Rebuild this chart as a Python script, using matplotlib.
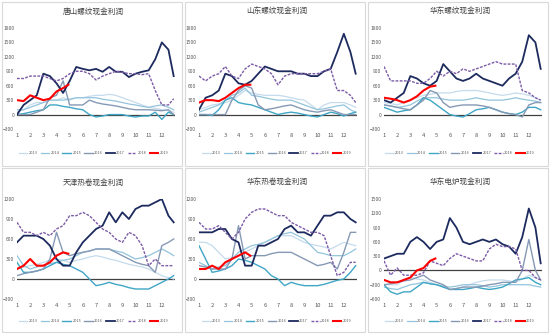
import numpy as np
import matplotlib.pyplot as plt
from matplotlib.patches import Rectangle

plt.rcParams['font.family'] = ['Noto Sans CJK SC', 'DejaVu Sans']

years = ['2013', '2014', '2015', '2016', '2017', '2018', '2019']
colors = ['#c5dbec', '#93c4dc', '#3fa6c5', '#8699b4', '#1c2a5e', '#7b5aa6', '#ff0000']
widths = [0.9, 0.9, 1.0, 1.0, 1.3, 1.0, 1.5]
styles = ['-', '-', '-', '-', '-', (0, (2, 1)), '-']

# half-month sample positions (month number on x axis)
months = [1, 1.5, 2, 2.5, 3, 3.5, 4, 4.5, 5, 5.5, 6, 6.5, 7, 7.5, 8, 8.5, 9, 9.5,
          10, 10.5, 11, 11.5, 12, 12.5, 12.9]
months_2019 = [1, 1.5, 2, 2.5, 3, 3.5, 4, 4.5, 4.9]

titles = ['唐山螺纹现金利润', '山东螺纹现金利润', '华东螺纹现金利润',
          '天津热卷现金利润', '华东热卷现金利润', '华东电炉现金利润']

# 唐山螺纹
ts_2013 = [50, 100, 200, 250, 250, 300, 300, 350, 300, 350, 350, 380, 400, 400, 420, 400, 350, 300, 250, 200, 150, 130, 100, 80, 50]
ts_2014 = [100, 100, 150, 200, 250, 300, 300, 300, 320, 350, 350, 350, 350, 320, 300, 280, 250, 220, 200, 170, 150, 180, 200, 150, 100]
ts_2015 = [0, 20, 50, 80, 100, 200, 200, 170, 150, 120, 100, 0, -50, -30, 0, 0, 0, -30, -50, -30, -30, 50, -100, 50, 0]
ts_2016 = [0, 0, 0, 50, 100, 350, 400, 700, 200, 200, 200, 300, 250, 220, 200, 180, 150, 120, 100, 100, 100, 90, 80, 100, 0]
ts_2017 = [0, 200, 300, 400, 850, 800, 650, 450, 700, 990, 950, 920, 950, 890, 990, 890, 890, 780, 850, 890, 920, 1150, 1500, 1350, 800]
ts_2018 = [750, 750, 800, 800, 800, 750, 700, 750, 850, 900, 900, 850, 720, 800, 850, 900, 880, 850, 850, 830, 850, 500, 200, 200, 330]
ts_2019 = [300, 280, 400, 350, 300, 330, 480, 550, 620]

# 山东螺纹
sd_2013 = [100, 150, 200, 220, 250, 300, 400, 500, 450, 420, 400, 400, 400, 380, 350, 320, 300, 200, 100, 200, 250, 250, 250, 200, 150]
sd_2014 = [50, 100, 150, 200, 300, 400, 450, 550, 400, 380, 350, 320, 300, 300, 300, 250, 200, 150, 100, 120, 150, 180, 200, 100, 50]
sd_2015 = [0, 0, -20, 100, 300, 350, 250, 220, 200, 150, 100, 50, 0, 30, 50, 30, 0, -30, -50, 0, 50, 20, -30, 20, 50]
sd_2016 = [0, 0, 0, 0, 0, 300, 500, 600, 550, 200, 100, 120, 150, 180, 200, 150, 100, 70, 50, 80, 100, 50, 0, 0, 0]
sd_2017 = [100, 350, 400, 500, 850, 800, 650, 620, 700, 850, 1000, 950, 900, 900, 900, 850, 850, 800, 800, 900, 950, 1300, 1680, 1300, 850]
sd_2018 = [800, 700, 800, 850, 1000, 800, 750, 950, 1050, 1000, 950, 850, 620, 800, 850, 850, 850, 850, 850, 900, 950, 500, 500, 400, 250]
sd_2019 = [250, 300, 300, 280, 350, 450, 550, 620, 620]

# 华东螺纹
hl_2013 = [250, 230, 200, 250, 300, 350, 400, 420, 450, 450, 450, 480, 500, 500, 500, 480, 450, 420, 400, 420, 450, 430, 400, 350, 300]
hl_2014 = [200, 180, 150, 170, 200, 280, 350, 350, 350, 320, 300, 300, 300, 320, 350, 320, 300, 300, 300, 320, 350, 320, 300, 280, 250]
hl_2015 = [150, 100, 50, 80, 100, 200, 350, 300, 200, 100, 0, -30, -50, 20, 100, 120, 150, 100, 50, 20, 0, 50, 150, 150, 100]
hl_2016 = [200, 180, 150, 120, 100, 200, 300, 500, 450, 250, 150, 180, 200, 200, 200, 180, 150, 100, 50, 20, 0, -50, 200, 250, 250]
hl_2017 = [300, 250, 350, 450, 800, 750, 650, 600, 700, 1050, 900, 750, 700, 750, 850, 750, 700, 650, 600, 750, 850, 1100, 1650, 1500, 950]
hl_2018 = [1000, 700, 700, 700, 700, 650, 650, 750, 900, 800, 900, 850, 950, 900, 950, 1000, 1050, 1100, 1050, 1050, 1050, 500, 450, 350, 300]
hl_2019 = [350, 330, 300, 250, 300, 380, 500, 580, 600]

# 天津热卷
tj_2013 = [150, 180, 200, 220, 250, 280, 300, 280, 250, 280, 300, 330, 350, 330, 300, 280, 250, 220, 200, 180, 150, 100, 50, 20, 0]
tj_2014 = [350, 200, 150, 180, 200, 230, 250, 280, 300, 350, 400, 420, 450, 450, 450, 420, 400, 350, 300, 320, 350, 400, 450, 400, 350]
tj_2015 = [250, 100, 100, 120, 150, 200, 250, 220, 200, 150, 100, 0, -100, -80, -50, -80, -100, -130, -150, -150, -150, -100, -50, 0, 50]
tj_2016 = [50, 80, 100, 120, 150, 300, 700, 400, 350, 380, 400, 420, 450, 450, 450, 400, 350, 300, 250, 220, 200, 100, 500, 550, 600]
tj_2017 = [550, 650, 650, 650, 600, 500, 300, 200, 200, 400, 550, 650, 750, 800, 1000, 850, 1000, 900, 1050, 1100, 1100, 1150, 1200, 950, 850]
tj_2018 = [850, 700, 700, 650, 700, 650, 750, 800, 950, 950, 1000, 950, 850, 750, 700, 600, 550, 700, 650, 500, 200, 300, 200, 200, 200]
tj_2019 = [150, 200, 300, 200, 200, 250, 350, 400, 380]

# 华东热卷
hr_2013 = [550, 550, 500, 400, 300, 320, 350, 400, 450, 500, 550, 600, 650, 650, 650, 600, 550, 520, 500, 480, 450, 500, 550, 520, 500]
hr_2014 = [250, 200, 150, 180, 200, 300, 400, 450, 500, 520, 550, 600, 650, 680, 700, 650, 600, 500, 400, 380, 350, 350, 350, 400, 450]
hr_2015 = [500, 300, 100, 120, 150, 200, 300, 280, 250, 200, 150, 50, 0, -100, -50, -80, -100, -100, -100, -80, -50, -20, 0, 100, 200]
hr_2016 = [200, 180, 150, 150, 150, 300, 800, 300, 350, 350, 350, 380, 400, 400, 400, 350, 300, 250, 200, 220, 250, 150, 400, 700, 700]
hr_2017 = [700, 700, 700, 750, 750, 600, 550, 200, 200, 500, 500, 550, 600, 750, 800, 700, 700, 650, 800, 950, 950, 1000, 1000, 900, 850]
hr_2018 = [850, 750, 750, 800, 700, 600, 700, 900, 1000, 1050, 1050, 1000, 950, 950, 850, 800, 750, 700, 700, 650, 350, 50, 100, 250, 250]
hr_2019 = [150, 150, 200, 150, 250, 300, 350, 400, 350]

# 华东电炉
dl_2013 = [-300, -300, -300, -200, -150, -180, -200, -250, -300, -350, -400, -380, -350, -300, -250, -220, -200, -200, -200, -220, -250, -180, -100, -150, -200]
dl_2014 = [-350, -380, -400, -350, -300, -280, -250, -280, -300, -330, -350, -330, -300, -300, -300, -320, -350, -330, -300, -300, -300, -300, -300, -330, -350]
dl_2015 = [-300, -450, -500, -450, -450, -350, -250, -280, -300, -350, -400, -400, -400, -380, -350, -380, -400, -380, -350, -280, -200, -180, -150, -250, -300]
dl_2016 = [-300, -280, -250, -220, -200, -150, -100, -200, -250, -300, -400, -380, -350, -350, -350, -330, -300, -280, -250, -250, -250, 0, 650, 0, -200]
dl_2017 = [250, 300, 350, 350, 600, 700, 600, 450, 600, 650, 1100, 900, 600, 550, 600, 650, 600, 650, 550, 500, 350, 700, 1300, 900, 150]
dl_2018 = [200, -100, 50, -100, -100, -100, -50, 200, 150, 100, 250, 350, 300, 250, 200, 200, 450, 550, 500, 500, 450, 0, 0, -150, -200]
dl_2019 = [-200, -250, -250, -200, -150, 0, 50, 200, 250]

panels = [
    [ts_2013, ts_2014, ts_2015, ts_2016, ts_2017, ts_2018, ts_2019],
    [sd_2013, sd_2014, sd_2015, sd_2016, sd_2017, sd_2018, sd_2019],
    [hl_2013, hl_2014, hl_2015, hl_2016, hl_2017, hl_2018, hl_2019],
    [tj_2013, tj_2014, tj_2015, tj_2016, tj_2017, tj_2018, tj_2019],
    [hr_2013, hr_2014, hr_2015, hr_2016, hr_2017, hr_2018, hr_2019],
    [dl_2013, dl_2014, dl_2015, dl_2016, dl_2017, dl_2018, dl_2019],
]
yticks = [np.arange(-300, 1801, 300)] * 3 + [np.arange(-300, 1201, 300)] * 2 + [np.arange(-600, 1501, 300)]

W, H = 550, 334
fig = plt.figure(figsize=(5.5, 3.34), dpi=100)
fig.patch.set_facecolor('white')

lefts = [17, 199, 384]
for i, series in enumerate(panels):
    r, c = divmod(i, 3)
    top = 28 if r == 0 else 199
    bot = 129 if r == 0 else 299
    box_x = c * 183.3 + 1.5
    box_y = 1.5 if r == 0 else 168
    fig.patches.append(Rectangle((box_x / W, 1 - (box_y + 164) / H), 180 / W, 164 / H,
                                 transform=fig.transFigure, fill=False,
                                 edgecolor='#d9d9d9', linewidth=0.8))
    ax = fig.add_axes([lefts[c] / W, 1 - bot / H, 158 / W, (bot - top) / H])
    for k, y in enumerate(series):
        xs = months_2019 if k == 6 else months
        ax.plot(xs, y, color=colors[k], lw=widths[k], linestyle=styles[k],
                label=years[k], zorder=3 + (k >= 4))
    ax.axhline(0, color='#404040', lw=0.9, zorder=2)
    ax.set_xlim(1, 13)
    ax.set_ylim(yticks[i][0], yticks[i][-1])
    ax.set_yticks(yticks[i])
    ax.set_xticks(range(1, 13))
    ax.tick_params(length=0, labelsize=3.6, colors='#595959', pad=2)
    ax.tick_params(axis='x', labelsize=4.2, pad=3)
    for s in ax.spines.values():
        s.set_visible(False)
    cx = (box_x + 92) / W
    fig.text(cx, 1 - (12 if r == 0 else 183) / H, titles[i], ha='center', va='center',
             fontsize=5.5, color='#404040')
    ax.legend(loc='center', bbox_to_anchor=(cx, 1 - (153 if r == 0 else 321) / H),
              bbox_transform=fig.transFigure, ncol=7, frameon=False,
              fontsize=2.8, handlelength=2.2, columnspacing=0.8, handletextpad=0.35,
              labelcolor='#595959', borderpad=0.1)

fig.savefig('out.png', dpi=100, facecolor='white')
